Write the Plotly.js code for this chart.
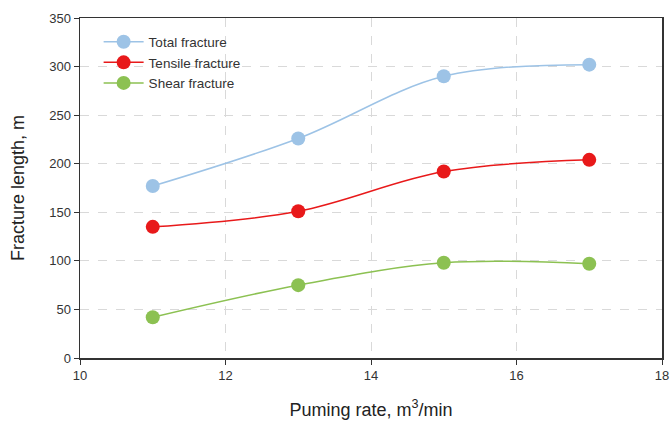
<!DOCTYPE html>
<html>
<head>
<meta charset="utf-8">
<script src="https://cdn.plot.ly/plotly-3.0.1.min.js"></script>
<style>
  html, body { margin: 0; padding: 0; background: #fff; }
  #chart { width: 671px; height: 421px; }
</style>
</head>
<body>
<div id="chart"></div>
<script>
// Pumping rate (m3/min) and fracture lengths (m)
const pumpRate = [11, 13, 15, 17];
const totalFracture = [177, 226, 290, 302];
const tensileFracture = [135, 151, 192, 204];
const shearFracture = [42, 75, 98, 97];

const seriesNames = ['Total fracture', 'Tensile fracture', 'Shear fracture'];
const seriesColors = ['#9dc3e6', '#e8191a', '#8cc152'];
const seriesValues = [totalFracture, tensileFracture, shearFracture];

const traces = seriesValues.map((vals, i) => ({
  x: pumpRate,
  y: vals,
  name: seriesNames[i],
  type: 'scatter',
  mode: 'lines+markers',
  line: { color: seriesColors[i], width: 1.5, shape: 'spline', smoothing: 1 },
  marker: { color: seriesColors[i], size: 14 },
  cliponaxis: false
}));

const axisCommon = {
  showline: true,
  linecolor: '#333',
  linewidth: 1.5,
  mirror: true,
  ticks: 'outside',
  ticklen: 5,
  tickcolor: '#333',
  showgrid: true,
  gridcolor: '#d9d9d9',
  griddash: 'dash',
  gridwidth: 1,
  zeroline: false,
  tickfont: { family: 'Liberation Sans, Arial, sans-serif', size: 13, color: '#333' }
};

const layout = {
  width: 671,
  height: 421,
  margin: { l: 80, r: 9, t: 18, b: 63 },
  paper_bgcolor: '#fff',
  plot_bgcolor: '#fff',
  showlegend: true,
  legend: {
    x: 0.032, y: 0.975, xanchor: 'left', yanchor: 'top',
    bgcolor: 'rgba(0,0,0,0)',
    font: { family: 'Liberation Sans, Arial, sans-serif', size: 13.5, color: '#333' },
    itemwidth: 40,
    tracegroupgap: 0
  },
  xaxis: Object.assign({}, axisCommon, {
    range: [10, 18],
    dtick: 2,
    title: {
      text: 'Puming rate, m<sup>3</sup>/min',
      font: { family: 'Liberation Sans, Arial, sans-serif', size: 18, color: '#222' },
      standoff: 21
    }
  }),
  yaxis: Object.assign({}, axisCommon, {
    range: [0, 350],
    dtick: 50,
    title: {
      text: 'Fracture length, m',
      font: { family: 'Liberation Sans, Arial, sans-serif', size: 18, color: '#222' },
      standoff: 20
    }
  })
};

Plotly.newPlot('chart', traces, layout, { displayModeBar: false, staticPlot: true });
</script>
</body>
</html>
